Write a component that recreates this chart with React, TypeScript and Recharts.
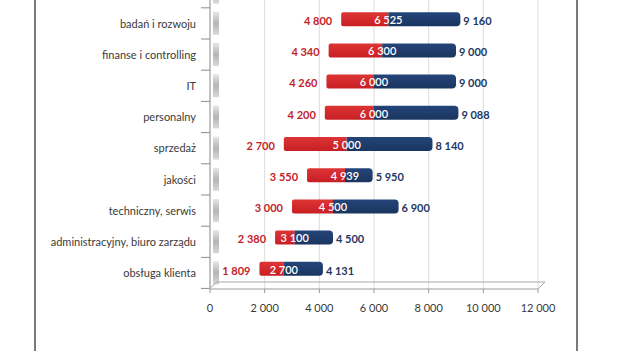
import { Bar, BarChart, CartesianGrid, LabelList, XAxis, YAxis } from "recharts";

// top row is cut off in the picture, so it stays empty
const categories = [
  "",
  "badań i rozwoju",
  "finanse i controlling",
  "IT",
  "personalny",
  "sprzedaż",
  "jakości",
  "techniczny, serwis",
  "administracyjny, biuro zarządu",
  "obsługa klienta",
];
const lowValues = [null, 4800, 4340, 4260, 4200, 2700, 3550, 3000, 2380, 1809];
const medianValues = [null, 6525, 6300, 6000, 6000, 5000, 4939, 4500, 3100, 2700];
const highValues = [null, 9160, 9000, 9000, 9088, 8140, 5950, 6900, 4500, 4131];
const xTicks = [0, 2000, 4000, 6000, 8000, 10000, 12000];

const tabela = categories.map((name, i) => {
  const low = lowValues[i];
  const median = medianValues[i];
  const high = highValues[i];
  return {
    name,
    low,
    median,
    high,
    base: low,
    czerwony: low == null || median == null ? null : median - low,
    niebieski: median == null || high == null ? null : high - median,
  };
});

const fmt = (v: number) => String(v).replace(/\B(?=(\d{3})+(?!\d))/g, " ");

const FONT = "Lato, 'Open Sans', sans-serif";

const CategoryTick = (props: any) => {
  const { y, payload, index } = props;
  const last = index === categories.length - 1;
  return (
    <g>
      <rect x={213} y={y - 7} width={6} height={23} fill="url(#sciana)" />
      <line x1={201} x2={210} y1={y - 11} y2={y - 11} stroke="#8c8c8c" />
      {last && <line x1={201} x2={210} y1={y + 20} y2={y + 20} stroke="#8c8c8c" />}
      <text
        x={196}
        y={y + 6}
        textAnchor="end"
        dominantBaseline="middle"
        fontFamily={FONT}
        fontSize={11}
        fill="#3a3a3a"
      >
        {payload.value}
      </text>
    </g>
  );
};

const LowLabel = (props: any) => {
  const { x, y, height, value } = props;
  if (value == null || x == null) return null;
  return (
    <text x={x - 9} y={y + height / 2 + 3} textAnchor="end" dominantBaseline="middle"
      fontFamily={FONT} fontSize={11} fontWeight={700} fill="#c3232b">
      {fmt(value)}
    </text>
  );
};

const MedianLabel = (props: any) => {
  const { x, y, width, height, value } = props;
  if (value == null || x == null) return null;
  return (
    <text x={x + width} y={y + height / 2 + 2} textAnchor="middle" dominantBaseline="middle"
      fontFamily={FONT} fontSize={11} fontWeight={600} fill="#ffffff">
      {fmt(value)}
    </text>
  );
};

const HighLabel = (props: any) => {
  const { x, y, width, height, value } = props;
  if (value == null || x == null) return null;
  return (
    <text x={x + width + 3} y={y + height / 2 + 3} textAnchor="start" dominantBaseline="middle"
      fontFamily={FONT} fontSize={11} fontWeight={700} fill="#1f3864">
      {fmt(value)}
    </text>
  );
};

export default function App() {
  return (
    <div style={{ position: "absolute", left: 0, top: 0, width: 624, height: 351, overflow: "hidden", background: "#fff" }}>
      <div style={{ position: "absolute", left: 34, top: -5, width: 540, height: 370, borderLeft: "2px solid #7a7a7a", borderRight: "2px solid #7a7a7a" }} />
      <div style={{ position: "absolute", left: 0, top: -40 }}>
        <BarChart
          width={624}
          height={370}
          data={tabela}
          layout="vertical"
          margin={{ top: 12, right: 86, bottom: 0, left: 0 }}
          barSize={14}
        >
          <defs>
            <linearGradient id="sciana" x1="0" y1="0" x2="0" y2="1">
              <stop offset="0%" stopColor="#e6e6e6" />
              <stop offset="50%" stopColor="#b5b5b5" />
              <stop offset="100%" stopColor="#d9d9d9" />
            </linearGradient>
            <linearGradient id="czerwien" x1="0" y1="0" x2="0" y2="1">
              <stop offset="0%" stopColor="#dd3434" />
              <stop offset="100%" stopColor="#c81f25" />
            </linearGradient>
            <linearGradient id="granat" x1="0" y1="0" x2="0" y2="1">
              <stop offset="0%" stopColor="#24457a" />
              <stop offset="100%" stopColor="#1a355f" />
            </linearGradient>
          </defs>
          <CartesianGrid horizontal={false} stroke="#dcdcdc" />
          <XAxis
            type="number"
            domain={[0, 12000]}
            ticks={xTicks}
            tickFormatter={fmt}
            height={41}
            tickSize={4}
            tickMargin={11}
            axisLine={{ stroke: "#9a9a9a" }}
            tickLine={{ stroke: "#9a9a9a" }}
            tick={{ fontFamily: FONT, fontSize: 11, fill: "#3a3a3a" }}
          />
          <YAxis
            type="category"
            dataKey="name"
            width={210}
            padding={{ top: 0, bottom: 5 }}
            axisLine={{ stroke: "#9a9a9a" }}
            tickLine={false}
            tick={CategoryTick}
            interval={0}
          />
          <Bar dataKey="base" stackId="a" fill="transparent" isAnimationActive={false} />
          <Bar dataKey="czerwony" stackId="a" fill="url(#czerwien)" radius={[2, 0, 0, 2]} isAnimationActive={false}>
            <LabelList dataKey="low" content={LowLabel} />
            <LabelList dataKey="median" content={MedianLabel} />
          </Bar>
          <Bar dataKey="niebieski" stackId="a" fill="url(#granat)" radius={[0, 4, 4, 0]} isAnimationActive={false}>
            <LabelList dataKey="high" content={HighLabel} />
          </Bar>
        </BarChart>
      </div>
      <svg width={624} height={351} style={{ position: "absolute", left: 0, top: 0, pointerEvents: "none" }}>
        <polyline points="209,289 217,282 545,282 538,289" fill="none" stroke="#a8a8a8" />
      </svg>
    </div>
  );
}
